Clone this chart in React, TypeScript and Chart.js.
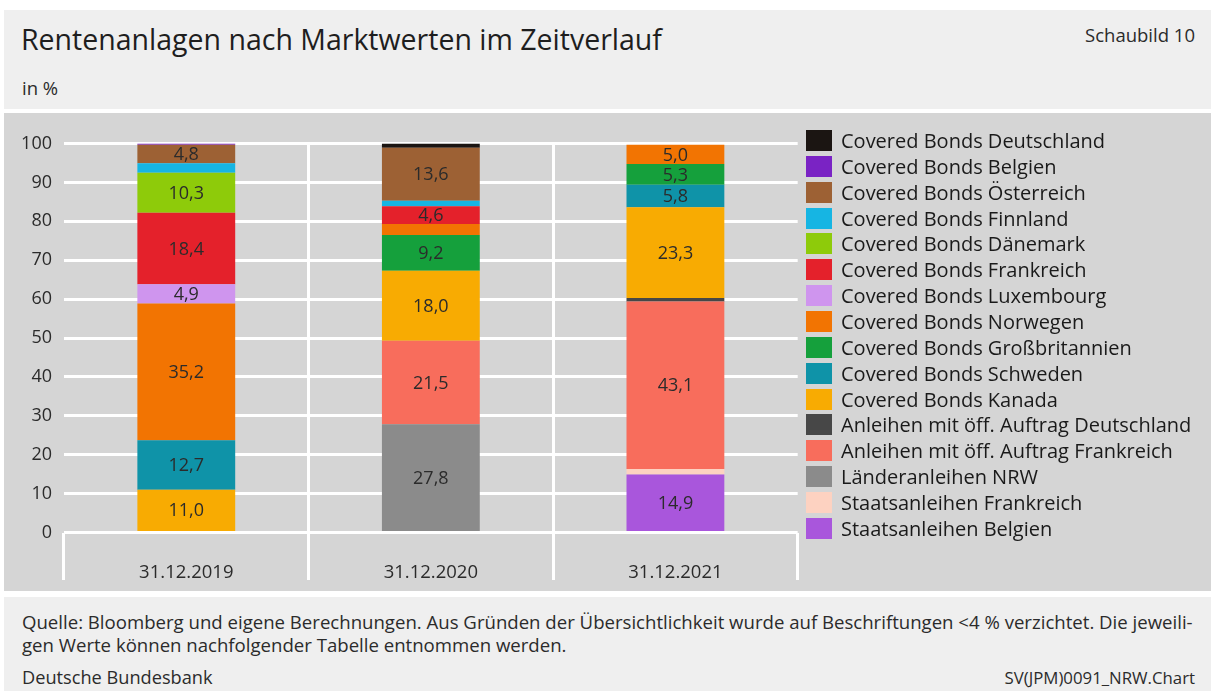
import React, { useEffect, useRef } from "react";
import { Chart, registerables } from "chart.js";

Chart.register(...registerables);

const categories = ["31.12.2019", "31.12.2020", "31.12.2021"];

// Series listed from bottom of the stack to top
const seriesNames = [
  "Staatsanleihen Belgien",
  "Staatsanleihen Frankreich",
  "Länderanleihen NRW",
  "Anleihen mit öff. Auftrag Frankreich",
  "Anleihen mit öff. Auftrag Deutschland",
  "Covered Bonds Kanada",
  "Covered Bonds Schweden",
  "Covered Bonds Großbritannien",
  "Covered Bonds Norwegen",
  "Covered Bonds Luxembourg",
  "Covered Bonds Frankreich",
  "Covered Bonds Dänemark",
  "Covered Bonds Finnland",
  "Covered Bonds Österreich",
  "Covered Bonds Belgien",
  "Covered Bonds Deutschland",
];

const staatsBelgien = [0, 0, 14.9];
const staatsFrankreich = [0, 0, 1.4];
const laenderNRW = [0, 27.8, 0];
const oeffFrankreich = [0, 21.5, 43.1];
const oeffDeutschland = [0, 0, 0.9];
const cbKanada = [11.0, 18.0, 23.3];
const cbSchweden = [12.7, 0, 5.8];
const cbGrossbritannien = [0, 9.2, 5.3];
const cbNorwegen = [35.2, 2.8, 5.0];
const cbLuxembourg = [4.9, 0, 0];
const cbFrankreich = [18.4, 4.6, 0];
const cbDaenemark = [10.3, 0, 0];
const cbFinnland = [2.4, 1.4, 0];
const cbOesterreich = [4.8, 13.6, 0];
const cbBelgien = [0.3, 0, 0];
const cbDeutschland = [0, 1.1, 0];

const seriesValues = [
  staatsBelgien,
  staatsFrankreich,
  laenderNRW,
  oeffFrankreich,
  oeffDeutschland,
  cbKanada,
  cbSchweden,
  cbGrossbritannien,
  cbNorwegen,
  cbLuxembourg,
  cbFrankreich,
  cbDaenemark,
  cbFinnland,
  cbOesterreich,
  cbBelgien,
  cbDeutschland,
];

const seriesColors = [
  "#a956dc",
  "#fdd2c1",
  "#8b8b8b",
  "#f86d5c",
  "#474747",
  "#f8ab02",
  "#0f93a8",
  "#15a03c",
  "#f27402",
  "#cf95ee",
  "#e4212b",
  "#8ecb0a",
  "#16b5e3",
  "#9d6134",
  "#7a23c4",
  "#1b1512",
];

const yTicks = [0, 10, 20, 30, 40, 50, 60, 70, 80, 90, 100];

const FONT = '"Open Sans", "Noto Sans", sans-serif';
const TEXT = "#2b2b2b";

const valueLabels = {
  id: "valueLabels",
  afterDatasetsDraw(chart: any) {
    const ctx = chart.ctx;
    ctx.save();
    ctx.font = `18px ${FONT}`;
    ctx.fillStyle = TEXT;
    ctx.textAlign = "center";
    ctx.textBaseline = "middle";
    chart.data.datasets.forEach((ds: any, di: number) => {
      const meta = chart.getDatasetMeta(di);
      meta.data.forEach((bar: any, i: number) => {
        const v = ds.data[i];
        if (v == null || v < 4) return;
        const p = bar.getProps(["x", "y", "base"], true);
        ctx.fillText(v.toFixed(1).replace(".", ","), p.x, (p.y + p.base) / 2 + 1);
      });
    });
    ctx.restore();
  },
};

function ChartCanvas() {
  const ref = useRef<HTMLCanvasElement | null>(null);
  useEffect(() => {
    if (!ref.current) return;
    const chart = new Chart(ref.current, {
      type: "bar",
      data: {
        labels: categories,
        datasets: seriesNames.map((name, i) => ({
          label: name,
          data: seriesValues[i],
          backgroundColor: seriesColors[i],
          borderWidth: 0,
          barPercentage: 0.4,
          categoryPercentage: 1,
        })),
      },
      options: {
        responsive: false,
        animation: false,
        devicePixelRatio: 1,
        layout: { padding: { top: 30.5, right: 413.3, left: 0, bottom: 0 } },
        plugins: { legend: { display: false }, tooltip: { enabled: false } },
        scales: {
          x: {
            stacked: true,
            offset: true,
            border: { display: false },
            grid: {
              offset: true,
              lineWidth: 3,
              color: (c: any) =>
                c.index === 0 || c.index === undefined ? "rgba(0,0,0,0)" : "#ffffff",
              tickColor: "#ffffff",
              tickWidth: 3,
              tickLength: 47.5,
            },
            ticks: {
              color: TEXT,
              font: { family: FONT, size: 18.5 },
              padding: -18,
              maxRotation: 0,
            },
            afterFit: (s: any) => {
              s.height = 58.5;
            },
          },
          y: {
            stacked: true,
            min: 0,
            max: 100,
            border: { display: false },
            grid: { color: "#ffffff", lineWidth: 3, drawTicks: false },
            afterBuildTicks: (s: any) => {
              s.ticks = yTicks.map((v) => ({ value: v }));
            },
            ticks: {
              color: TEXT,
              font: { family: FONT, size: 18 },
              padding: 12,
            },
            afterFit: (s: any) => {
              s.width = 60;
            },
          },
        },
      },
      plugins: [valueLabels],
    });
    return () => chart.destroy();
  }, []);
  return (
    <canvas
      ref={ref}
      width={1207}
      height={478}
      style={{ position: "absolute", left: 4, top: 113, width: 1207, height: 478 }}
    />
  );
}

export default function App() {
  const legendItems = seriesNames
    .map((n, i) => ({ name: n, color: seriesColors[i] }))
    .reverse();
  const abs = (o: any) => ({ position: "absolute" as const, whiteSpace: "nowrap" as const, ...o });
  return (
    <div
      style={{
        position: "absolute",
        left: 0,
        top: 0,
        width: 1214,
        height: 691,
        background: "#ffffff",
        overflow: "hidden",
        fontFamily: FONT,
        color: TEXT,
      }}
    >
      <div style={abs({ left: 4, top: 10, width: 1207, height: 99, background: "#efefef" })} />
      <div style={abs({ left: 4, top: 113, width: 1207, height: 478, background: "#d5d5d5" })} />
      <div style={abs({ left: 4, top: 597, width: 1207, height: 94, background: "#efefef" })} />

      <div style={abs({ left: 21, top: 22, fontSize: 28.5, lineHeight: "34px", color: "#1e1e1e" })}>
        Rentenanlagen nach Marktwerten im Zeitverlauf
      </div>
      <div style={abs({ right: 19, top: 23, fontSize: 18.5, lineHeight: "24px" })}>Schaubild 10</div>
      <div style={abs({ left: 22, top: 76, fontSize: 18.5, lineHeight: "24px" })}>in %</div>

      <ChartCanvas />

      {legendItems.map((it, i) => (
        <div key={it.name} style={abs({ left: 806, top: 130 + i * 25.85, height: 21 })}>
          <div
            style={{
              position: "absolute",
              left: 0,
              top: 0,
              width: 26,
              height: 21,
              background: it.color,
            }}
          />
          <div
            style={{
              position: "absolute",
              left: 35,
              top: -2,
              fontSize: 20,
              lineHeight: "25px",
              color: "#1a1a1a",
              whiteSpace: "nowrap",
            }}
          >
            {it.name}
          </div>
        </div>
      ))}

      <div style={abs({ left: 22, top: 610, fontSize: 18.6, lineHeight: "24px" })}>
        Quelle: Bloomberg und eigene Berechnungen. Aus Gründen der Übersichtlichkeit wurde auf
        Beschriftungen &lt;4 % verzichtet. Die jeweili-
      </div>
      <div style={abs({ left: 22, top: 633, fontSize: 18.6, lineHeight: "24px" })}>
        gen Werte können nachfolgender Tabelle entnommen werden.
      </div>
      <div style={abs({ left: 22, top: 665, fontSize: 18.2, lineHeight: "24px" })}>
        Deutsche Bundesbank
      </div>
      <div style={abs({ right: 19, top: 666, fontSize: 16.8, lineHeight: "24px" })}>
        SV(JPM)0091_NRW.Chart
      </div>
    </div>
  );
}
